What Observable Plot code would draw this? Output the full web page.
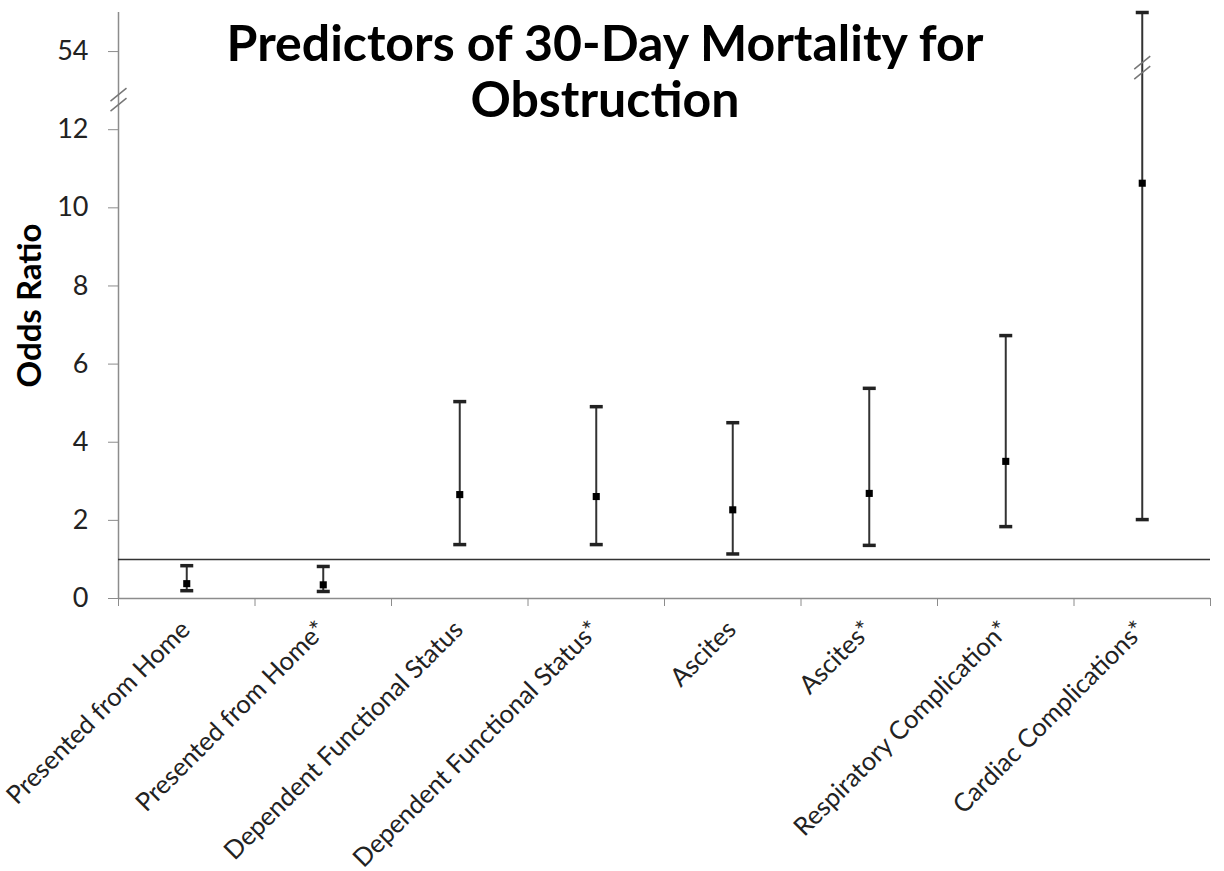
<!DOCTYPE html>
<html>
<head>
<meta charset="utf-8">
<script src="https://cdn.jsdelivr.net/npm/d3@7"></script>
<script src="https://cdn.jsdelivr.net/npm/@observablehq/plot@0.6"></script>
<style>
  html, body { margin: 0; padding: 0; background: #fff; }
  #wrap { position: relative; width: 1224px; height: 871px; }
  #title {
    position: absolute; left: 0; width: 1210px; top: 14px;
    text-align: center; font-family: Lato, sans-serif; font-weight: bold;
    font-size: 50px; line-height: 56px; color: #000; pointer-events: none;
  }
</style>
</head>
<body>
<div id="wrap">
  <div id="chart"></div>
  <div id="title">Predictors of 30-Day Mortality for<br>Obstruction</div>
</div>
<script>
// ---- data ----
const categories = [
  "Presented from Home",
  "Presented from Home*",
  "Dependent Functional Status",
  "Dependent Functional Status*",
  "Ascites",
  "Ascites*",
  "Respiratory Complication*",
  "Cardiac Complications*"
];
const oddsRatio = [0.38, 0.35, 2.66, 2.61, 2.27, 2.69, 3.51, 10.63];
const lowerCI   = [0.20, 0.18, 1.38, 1.38, 1.14, 1.36, 1.84, 2.02];
// Cardiac upper bound is drawn above the axis break (plotted position 15 on the broken scale)
const upperCI   = [0.84, 0.82, 5.04, 4.91, 4.50, 5.38, 6.73, 15.0];
const yTickValues = [0, 2, 4, 6, 8, 10, 12, 14];
const yTickLabels = ["0", "2", "4", "6", "8", "10", "12", "54"];
const referenceOR = 1;
// axis-break markers: [category index or axis (-0.5), plotted value]
const axisBreaks = [
  {pos: -0.5, value: 12.77},
  {pos: 7, value: 13.59}
];

const rows = categories.map((c, i) => ({
  idx: i + 0.5, cat: c, or: oddsRatio[i], lo: lowerCI[i], hi: upperCI[i]
}));

const capSymbol = {
  draw(ctx) { ctx.moveTo(-6.5, 0); ctx.lineTo(6.5, 0); }
};
const breakSymbol = {
  draw(ctx) {
    ctx.moveTo(-8, 1.5); ctx.lineTo(8, -11.5);
    ctx.moveTo(-8, 11.5); ctx.lineTo(8, -1.5);
  }
};

const gray = "#8c8c8c";
const chart = Plot.plot({
  width: 1224,
  height: 871,
  marginLeft: 118,
  marginRight: 14,
  marginTop: 12,
  marginBottom: 273,
  style: {fontFamily: "Lato, sans-serif", color: "#111", background: "#fff"},
  x: {type: "linear", domain: [0, categories.length], axis: null},
  y: {domain: [0, 15], axis: null},
  marks: [
    // y axis line and ticks
    Plot.ruleX([0], {stroke: gray, strokeWidth: 1.5}),
    Plot.axisY({
      ticks: yTickValues, tickSize: 10, tickPadding: 20, stroke: gray,
      tickFormat: (d) => yTickLabels[yTickValues.indexOf(d)],
      fontSize: 27, fill: "#222", label: null
    }),
    // x axis line, boundary ticks and labels
    Plot.ruleY([0], {stroke: gray, strokeWidth: 1.5}),
    Plot.axisX({
      ticks: d3.range(categories.length + 1), tickSize: 8, stroke: gray,
      tickFormat: () => "", label: null
    }),
    Plot.axisX({
      ticks: rows.map(d => d.idx), tickSize: 0, tickPadding: 27, tickRotate: -45,
      tickFormat: (d) => categories[Math.round(d - 0.5)], dx: -1,
      fontSize: 25.5, fill: "#222", label: null
    }),
    // reference line at OR = 1
    Plot.ruleY([referenceOR], {stroke: "#333", strokeWidth: 1.5}),
    // error bars
    Plot.ruleX(rows, {x: "idx", y1: "lo", y2: "hi", stroke: "#333", strokeWidth: 2}),
    Plot.dot(rows, {x: "idx", y: "lo", symbol: capSymbol, stroke: "#222", strokeWidth: 3.5, fill: "none"}),
    Plot.dot(rows, {x: "idx", y: "hi", symbol: capSymbol, stroke: "#222", strokeWidth: 3.5, fill: "none"}),
    // point estimates
    Plot.dot(rows, {x: "idx", y: "or", symbol: "square", r: 4, fill: "#000", stroke: "none"}),
    // axis breaks
    Plot.dot(axisBreaks, {x: d => d.pos + 0.5, y: "value", symbol: breakSymbol, stroke: "#777", strokeWidth: 1.5, fill: "none"}),
    // y axis title
    Plot.text(["Odds Ratio"], {frameAnchor: "left", textAnchor: "middle", rotate: -90, dx: -88, dy: 0, fontSize: 33, fontWeight: "bold", fill: "#000"})
  ]
});
document.getElementById("chart").appendChild(chart);
</script>
</body>
</html>
